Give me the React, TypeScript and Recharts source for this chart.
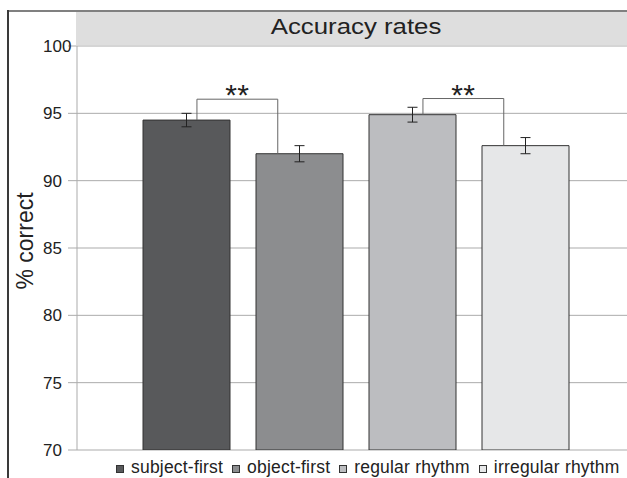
import React from "react";
import { BarChart, Bar, XAxis, YAxis, CartesianGrid, Legend, ErrorBar } from "recharts";

// values
const conditions = ["subject-first", "object-first", "regular rhythm", "irregular rhythm"];
const accuracy = [94.5, 92.0, 94.9, 92.6];
const stdErr = [0.5, 0.6, 0.55, 0.6];
const yTicks = [70, 75, 80, 85, 90, 95, 100];
const pairs: [number, number][] = [[0, 1], [2, 3]];
const pairLevels = [96.05, 96.1];
const pairMarks = ["**", "**"];

const BAR_FILLS = ["#58595b", "#8c8d8f", "#bcbdc0", "#e6e7e8"];
const BAR_SIZE = 87;
const BAR_GAP = 26;
const FONT = "'Liberation Sans', Arial, sans-serif";
const INK = "#222";
const GRID = "#ababab";

const row: Record<string, number | string> = { name: "accuracy" };
conditions.forEach((_, i) => {
  row[`c${i}`] = accuracy[i];
  row[`e${i}`] = stdErr[i];
});
const data = [row];

function YTick({ x, y, payload }: any) {
  return (
    <text x={x - 25} y={y} dy="0.35em" textAnchor="start" fontSize={17} fill={INK} fontFamily={FONT}>
      {payload.value}
    </text>
  );
}

function YLabel({ viewBox }: any) {
  const cx = viewBox.x + 16;
  const cy = viewBox.y + viewBox.height / 2 - 7;
  return (
    <text x={cx} y={cy} transform={`rotate(-90 ${cx} ${cy})`} textAnchor="middle" fontSize={23} fill={INK} fontFamily={FONT}>
      % correct
    </text>
  );
}

// significance bracket drawn from the left bar of each pair
function bracket(k: number) {
  return (props: any) => {
    const vb = props.viewBox ?? props;
    const x = Number(vb.x ?? props.x);
    const y = Number(vb.y ?? props.y);
    const width = Number(vb.width ?? props.width);
    const height = Number(vb.height ?? props.height);
    const [a, b] = pairs[k];
    const ppu = height / (accuracy[a] - yTicks[0]);
    const yLevel = y - (pairLevels[k] - accuracy[a]) * ppu;
    const yB = y + (accuracy[a] - accuracy[b]) * ppu;
    const xL = x + width * 0.62;
    const xR = x + (b - a) * (width + BAR_GAP) + width * 0.25;
    return (
      <g>
        <polyline points={`${xL},${y} ${xL},${yLevel} ${xR},${yLevel} ${xR},${yB}`} fill="none" stroke="#666" strokeWidth={1} />
        <text x={(xL + xR) / 2} y={yLevel + 6} textAnchor="middle" fontSize={30} fill={INK} fontFamily={FONT} letterSpacing={0.5}>
          {pairMarks[k]}
        </text>
      </g>
    );
  };
}

function LegendContent({ payload }: any) {
  const items = [...(payload ?? [])].sort((p: any, q: any) => conditions.indexOf(p.value) - conditions.indexOf(q.value));
  return (
    <div style={{ display: "flex", alignItems: "center", fontFamily: FONT, fontSize: 17.5, letterSpacing: 0.2, color: INK, lineHeight: "18px", whiteSpace: "nowrap" }}>
      {items.map((p: any) => (
        <span key={p.value} style={{ display: "inline-flex", alignItems: "center", marginRight: 9 }}>
          <span style={{ width: 6, height: 6, border: "1px solid #333", background: p.color, marginRight: 7, position: "relative", top: 2 }} />
          {p.value}
        </span>
      ))}
    </div>
  );
}

export default function App() {
  return (
    <div style={{ position: "fixed", left: 0, top: 0, width: 627, height: 478, overflow: "hidden", background: "#fff", fontFamily: FONT }}>
      <div style={{ position: "absolute", left: 7, top: 10, width: 700, height: 2, background: "#808080" }} />
      <div style={{ position: "absolute", left: 7, top: 10, width: 1.5, height: 500, background: "#3a3a3a" }} />
      <div style={{ position: "absolute", left: 76, top: 12, width: 600, height: 33, background: "#dedede" }} />
      <div
        style={{
          position: "absolute", left: 356, top: 12, lineHeight: "31px", fontSize: 21.5, color: INK,
          whiteSpace: "nowrap", transform: "translateX(-50%) scaleX(1.2)",
        }}
      >
        Accuracy rates
      </div>
      <div style={{ position: "absolute", left: 0, top: 0 }}>
        <BarChart width={660} height={478} data={data} margin={{ top: 46, right: 25, left: 17, bottom: 28 }} barSize={BAR_SIZE} barGap={BAR_GAP}>
          <CartesianGrid vertical={false} stroke={GRID} />
          <XAxis dataKey="name" hide />
          <YAxis
            width={60}
            domain={[yTicks[0], yTicks[yTicks.length - 1]]}
            ticks={yTicks}
            allowDataOverflow
            tick={<YTick />}
            tickSize={9}
            tickMargin={0}
            tickLine={{ stroke: GRID }}
            axisLine={{ stroke: GRID }}
            label={<YLabel />}
          />
          <Legend
            layout="horizontal"
            verticalAlign="middle"
            align="center"
            content={<LegendContent />}
            wrapperStyle={{ position: "absolute", left: 116, top: 458, width: 560 }}
          />
          {conditions.map((c, i) => {
            const k = pairs.findIndex((p) => p[0] === i);
            return (
              <Bar
                key={c}
                dataKey={`c${i}`}
                name={c}
                fill={BAR_FILLS[i]}
                stroke="#333"
                strokeWidth={1}
                isAnimationActive={false}
                label={k >= 0 ? bracket(k) : undefined}
              >
                <ErrorBar dataKey={`e${i}`} width={5} stroke="#222" strokeWidth={1} isAnimationActive={false} />
              </Bar>
            );
          })}
        </BarChart>
      </div>
    </div>
  );
}
